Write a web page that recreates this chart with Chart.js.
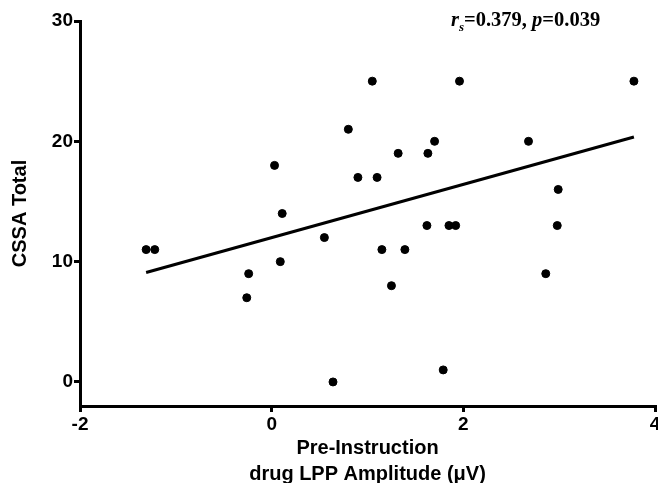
<!DOCTYPE html>
<html>
<head>
<meta charset="utf-8">
<script src="https://cdn.jsdelivr.net/npm/chart.js@4"></script>
<style>
  html, body { margin: 0; padding: 0; background: #fff; }
  #wrap { width: 658px; height: 483px; position: relative; }
</style>
</head>
<body>
<div id="wrap"><canvas id="chart"></canvas></div>
<script>
// LPP amplitude (x) vs CSSA total (y), one point per participant
const lppAmp = [-1.31, -1.22, -0.26, -0.24, 0.03, 0.09, 0.11, 0.55, 0.64, 0.80,
                0.90, 1.05, 1.10, 1.15, 1.25, 1.32, 1.39, 1.62, 1.63, 1.70,
                1.79, 1.85, 1.92, 1.96, 2.68, 2.86, 2.98, 2.99, 3.78];
const cssaTotal = [11, 11, 7, 9, 18, 10, 14, 12, 0, 21,
                   17, 25, 17, 11, 8, 19, 11, 13, 19, 20,
                   1, 13, 13, 25, 20, 9, 13, 16, 25];
// regression line ends
const fitX = [-1.31, 3.78];
const fitY = [9.1, 20.36];
const xTicks = [-2, 0, 2, 4];
const yTicks = [0, 10, 20, 30];

const points = lppAmp.map((x, i) => ({ x: x, y: cssaTotal[i] }));
const fitLine = fitX.map((x, i) => ({ x: x, y: fitY[i] }));

const statsLabel = {
    id: "statsLabel",
    afterDraw(chart) {
        const ctx = chart.ctx;
        const parts = [
            { t: "r", f: "italic bold 20.5px 'Liberation Serif'", dy: 0 },
            { t: "s", f: "italic bold 13px 'Liberation Serif'", dy: 5 },
            { t: "=0.379, ", f: "bold 20.5px 'Liberation Serif'", dy: 0 },
            { t: "p", f: "italic bold 20.5px 'Liberation Serif'", dy: 0 },
            { t: "=0.039", f: "bold 20.5px 'Liberation Serif'", dy: 0 },
        ];
        let x = 451;
        const y = 26;
        ctx.save();
        ctx.fillStyle = "#000";
        ctx.textBaseline = "alphabetic";
        parts.forEach(p => {
            ctx.font = p.f;
            ctx.fillText(p.t, x, y + p.dy);
            x += ctx.measureText(p.t).width;
        });
        ctx.restore();
    }
};

const tickFont = { family: "'Liberation Sans', Arial", size: 19, weight: "bold" };
const titleFont = { family: "'Liberation Sans', Arial", size: 20, weight: "bold" };

new Chart(document.getElementById("chart"), {
    type: "scatter",
    data: {
        datasets: [
            {
                label: "data",
                data: points,
                backgroundColor: "#000",
                borderColor: "#000",
                pointRadius: 4,
                pointHoverRadius: 4,
            },
            {
                label: "fit",
                type: "line",
                data: fitLine,
                borderColor: "#000",
                borderWidth: 3,
                pointRadius: 0,
                fill: false,
            },
        ],
    },
    options: {
        responsive: true,
        maintainAspectRatio: false,
        animation: false,
        layout: { autoPadding: false, padding: { left: 8, right: 3, top: 21, bottom: 0 } },
        plugins: {
            legend: { display: false },
            tooltip: { enabled: false },
        },
        scales: {
            x: {
                type: "linear",
                min: -2,
                max: 4,
                afterBuildTicks: s => { s.ticks = xTicks.map(v => ({ value: v })); },
                afterFit: s => { s.height = 77; s.paddingLeft = 0; s.paddingRight = 0; },
                ticks: { color: "#000", font: tickFont, padding: 1, maxRotation: 0 },
                grid: { drawOnChartArea: false, drawTicks: true, tickLength: 6, lineWidth: 3, color: "#000" },
                border: { display: true, width: 3, color: "#000" },
                title: {
                    display: true,
                    text: ["Pre-Instruction", "drug LPP Amplitude (\u03bcV)"],
                    color: "#000",
                    font: Object.assign({ lineHeight: 1.3 }, titleFont),
                    padding: { top: 0, bottom: -4 },
                },
            },
            y: {
                min: -2,
                max: 30,
                afterBuildTicks: s => { s.ticks = yTicks.map(v => ({ value: v })); },
                afterFit: s => { s.width = 72; s.paddingTop = 0; s.paddingBottom = 0; },
                ticks: { color: "#000", font: tickFont, padding: 1 },
                grid: { drawOnChartArea: false, drawTicks: true, tickLength: 6, lineWidth: 3, color: "#000" },
                border: { display: true, width: 3, color: "#000" },
                title: {
                    display: true,
                    text: "CSSA Total",
                    color: "#000",
                    font: titleFont,
                    padding: { top: 0, bottom: 0 },
                },
            },
        },
    },
    plugins: [statsLabel],
});
</script>
</body>
</html>
